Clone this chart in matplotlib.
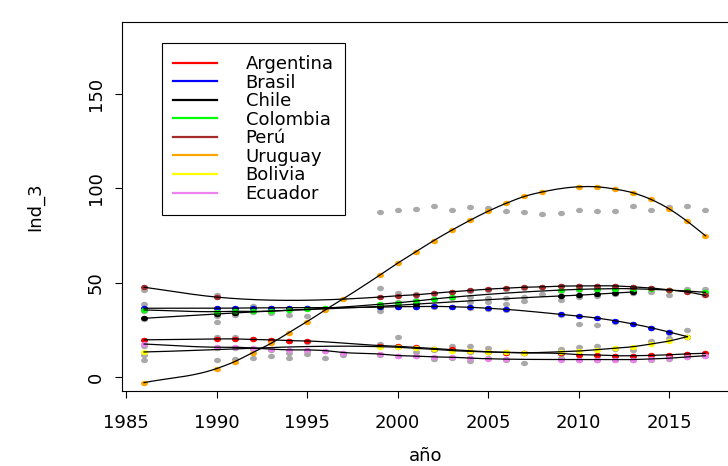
import numpy as np
import matplotlib
matplotlib.use("Agg")
import matplotlib.pyplot as plt
from matplotlib.path import Path
from matplotlib.lines import Line2D

nan = np.nan

years = [1986, 1990, 1991, 1992, 1993, 1994, 1995, 1996, 1997, 1998,
         1999, 2000, 2001, 2002, 2003, 2004, 2005, 2006, 2007, 2008,
         2009, 2010, 2011, 2012, 2013, 2014, 2015, 2016, 2017]

countries = ["Argentina", "Brasil", "Chile", "Colombia", "Perú",
             "Uruguay", "Bolivia", "Ecuador"]
colors = ["#FF0000", "#0000FF", "#000000", "#00FF00", "#A52A2A",
          "#FFA500", "#FFFF00", "#EE82EE"]

# smoothed (fitted) values of Ind_3
argentina_fit = [19.8, 20.3, 20.3, 20.0, 19.8, 19.4, 19.2, nan, nan, nan,
                 16.8, 16.4, 15.8, 15.2, 14.7, 14.0, 13.5, 13.1, 12.9, nan,
                 12.6, 12.0, 11.8, 11.4, 11.4, 11.6, 11.9, 12.4, 12.7]
brasil_fit = [36.5, 36.5, 36.6, 36.7, 36.7, 36.8, 36.8, nan, nan, nan,
              37.1, 37.3, 37.4, 37.5, 37.3, 37.0, 36.5, 35.9, nan, nan,
              33.3, 32.4, 31.3, 29.9, 28.2, 26.2, 23.9, 21.5, nan]
chile_fit = [31.2, 33.4, 34.0, nan, nan, nan, nan, nan, nan, nan,
             37.5, nan, 38.7, nan, nan, nan, nan, nan, nan, nan,
             43.0, 43.4, 44.0, 44.6, 45.1, nan, nan, nan, nan]
colombia_fit = [35.6, 34.7, 34.9, 34.8, 35.0, 35.5, 35.9, 36.5, nan, nan,
                38.6, 39.4, 40.3, 41.4, 42.3, nan, nan, nan, nan, nan,
                46.1, 46.5, 46.7, 46.9, 46.8, 46.5, 46.1, 45.6, 44.9]
peru_fit = [47.6, 42.4, nan, nan, nan, nan, nan, nan, nan, nan,
            42.4, 43.1, 43.6, 44.5, 45.2, 45.9, 46.6, 47.1, 47.6, 47.8,
            48.2, 48.3, 48.4, 48.3, 47.8, 47.2, 46.2, 45.1, 43.3]
uruguay_fit = [-2.8, 4.6, 8.3, 13.1, 17.9, 23.6, 29.4, 35.6, 41.5, nan,
               53.9, 60.3, 66.3, 72.3, 77.8, 83.0, 87.8, 92.0, 95.6, 98.0,
               nan, 100.7, 100.7, 99.5, 97.5, 94.0, 89.0, 82.4, 74.8]
bolivia_fit = [13.4, nan, nan, nan, nan, nan, nan, nan, nan, nan,
               16.2, 15.9, 15.3, 14.8, 14.1, 13.7, 13.4, 13.2, 13.0, nan,
               13.5, 13.9, 14.6, 15.3, 16.2, 17.6, 19.2, 21.5, nan]
ecuador_fit = [17.6, 15.9, 15.9, 15.5, 14.9, 14.5, 14.5, 14.1, 13.1, nan,
               12.3, 11.5, 11.2, 10.8, 10.6, 10.1, 9.8, 9.6, nan, nan,
               9.4, 9.4, 9.4, 9.3, 9.4, 9.7, 10.1, 10.8, 11.4]

# observed values of Ind_3
argentina_obs = [19.5, 21.5, 21.5, 20.0, 19.5, 19.0, 18.8, nan, nan, nan,
                 17.4, 21.5, 15.4, 14.8, 14.3, 13.6, 13.2, 12.8, 12.6, nan,
                 12.2, 11.6, 11.5, 11.0, 11.1, 11.3, 11.5, 12.1, 12.9]
brasil_obs = [38.8, 36.0, 36.3, 37.8, 36.4, 36.3, 36.6, nan, nan, nan,
              36.7, 37.0, 37.1, 37.4, 37.0, 36.7, 36.2, 35.6, nan, nan,
              33.0, 28.0, 27.8, 29.0, 28.0, 26.0, 23.6, 24.8, nan]
chile_obs = [30.6, 32.4, 33.0, nan, nan, nan, nan, nan, nan, nan,
             35.0, nan, 38.2, nan, nan, 39.6, 40.0, 38.6, 40.5, nan,
             40.9, 42.6, 43.2, 44.0, 44.6, nan, nan, nan, nan]
colombia_obs = [35.0, 29.2, 34.2, 34.5, 34.2, 32.9, 32.6, 36.0, nan, nan,
                38.0, 40.0, 41.0, 41.2, 42.0, 42.3, 42.0, 42.0, 42.6, 43.9,
                45.6, 46.0, 46.2, 46.4, 46.4, 44.9, 43.5, 45.4, 44.7]
peru_obs = [46.1, 43.5, nan, nan, nan, nan, nan, nan, nan, nan,
            47.4, 44.4, 44.0, 44.2, 45.0, 45.5, 46.3, 46.8, 47.3, 47.6,
            48.0, 48.0, 48.0, 48.0, 47.5, 47.0, 46.0, 46.5, 46.5]
uruguay_obs = [9.1, 9.1, 9.5, 10.0, 11.3, 10.2, 12.5, 10.2, 12.0, nan,
               87.3, 88.4, 89.0, 90.5, 88.4, 90.0, 89.5, 87.7, 87.4, 86.3,
               86.8, 88.4, 87.9, 87.9, 90.3, 88.4, 90.0, 90.3, 88.4]
bolivia_obs = [12.0, nan, nan, nan, nan, nan, nan, nan, nan, nan,
               16.5, 16.0, 13.2, 14.5, 16.7, 16.7, 15.3, 13.5, 13.0, nan,
               14.8, 16.2, 16.5, 15.0, 14.4, 19.3, 20.6, 21.5, nan]
ecuador_obs = [16.5, 15.5, 15.5, 15.2, 14.5, 12.7, 14.0, 13.8, 12.8, nan,
               12.0, 11.0, 11.0, 9.5, 10.3, 8.8, 10.0, 9.2, 7.7, nan,
               10.0, 9.2, 9.0, 9.0, 9.2, 9.4, 9.8, 10.5, 11.2]

fitted = [argentina_fit, brasil_fit, chile_fit, colombia_fit,
          peru_fit, uruguay_fit, bolivia_fit, ecuador_fit]
observed = [argentina_obs, brasil_obs, chile_obs, colombia_obs,
            peru_obs, uruguay_obs, bolivia_obs, ecuador_obs]

x_ticks = [1985, 1990, 1995, 2000, 2005, 2010, 2015]
y_ticks = [0, 50, 100, 150]


def smooth_curve(x, y, n=300):
    """Cubic Hermite curve through the fitted points (3-point slopes)."""
    x = np.asarray(x, float)
    y = np.asarray(y, float)
    h = np.diff(x)
    d = np.diff(y) / h
    m = np.empty_like(y)
    m[0], m[-1] = d[0], d[-1]
    for k in range(1, len(x) - 1):
        m[k] = (h[k] * d[k - 1] + h[k - 1] * d[k]) / (h[k - 1] + h[k])
    xs = np.linspace(x[0], x[-1], n)
    i = np.clip(np.searchsorted(x, xs, side="right") - 1, 0, len(x) - 2)
    t = (xs - x[i]) / h[i]
    h00 = (1 + 2 * t) * (1 - t) ** 2
    h10 = t * (1 - t) ** 2
    h01 = t * t * (3 - 2 * t)
    h11 = t * t * (t - 1)
    ys = h00 * y[i] + h10 * h[i] * m[i] + h01 * y[i + 1] + h11 * h[i] * m[i + 1]
    return xs, ys


W, H = 728, 466
fig = plt.figure(figsize=(W / 100, H / 100), dpi=100)
ax = fig.add_axes([122 / W, (H - 391) / H, 607 / W, 369 / H])

circ = Path.unit_circle()
dot = Path(circ.vertices * np.array([1.0, 0.78]), circ.codes)

yr = np.array(years, float)
for obs in observed:
    v = np.array(obs, float)
    ok = ~np.isnan(v)
    ax.plot(yr[ok], v[ok], linestyle="none", marker=dot, ms=5.0,
            mfc="#A9A9A9", mec="none", zorder=2)

for fit, col in zip(fitted, colors):
    v = np.array(fit, float)
    ok = ~np.isnan(v)
    ax.plot(yr[ok], v[ok], linestyle="none", marker=dot, ms=5.0,
            mfc=col, mec="none", zorder=3)

for fit in fitted:
    v = np.array(fit, float)
    ok = ~np.isnan(v)
    xs, ys = smooth_curve(yr[ok], v[ok])
    ax.plot(xs, ys, color="black", lw=0.9, zorder=4)

ax.set_xlim(1984.78, 2018.3)
ax.set_ylim(-7.24, 187.8)
ax.set_xticks(x_ticks)
ax.set_yticks(y_ticks)

fs = 13
ax.tick_params(axis="both", direction="out", length=5, width=0.8,
               labelsize=fs, color="black")
ax.tick_params(axis="x", pad=11.5)
ax.tick_params(axis="y", pad=7.5, labelrotation=90)
for lab in ax.get_yticklabels():
    lab.set_va("center")
for sp in ax.spines.values():
    sp.set_linewidth(0.8)

ax.set_xlabel("año", fontsize=fs)
ax.xaxis.set_label_coords(0.5, (391 - 456) / 369)
ax.xaxis.label.set_va("center")
ax.set_ylabel("Ind_3", fontsize=fs)
ax.yaxis.label.set_rotation_mode("default")
ax.yaxis.label.set_va("center")
ax.yaxis.label.set_ha("center")
ax.yaxis.set_label_coords((35 - 122) / 607, 0.5)

handles = [Line2D([], [], color=c, lw=1.6) for c in colors]
leg = ax.legend(handles, countries, loc="upper left",
                bbox_to_anchor=(161.7 / W, 1 - 43.3 / H),
                bbox_transform=fig.transFigure, fontsize=fs,
                frameon=True, fancybox=False, framealpha=1,
                edgecolor="black", borderpad=0.65, labelspacing=0.03,
                handlelength=2.4, handletextpad=1.6, borderaxespad=0)
leg.get_frame().set_linewidth(0.8)

fig.savefig("out.png", dpi=100)
